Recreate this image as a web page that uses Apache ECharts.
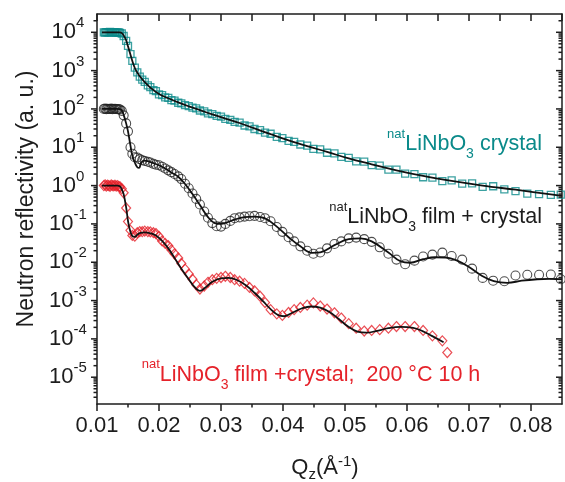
<!DOCTYPE html>
<html>
<head>
<meta charset="utf-8">
<script src="https://cdn.jsdelivr.net/npm/echarts@6/dist/echarts.min.js"></script>
<style>
  html, body { margin: 0; padding: 0; background: #fff; }
  #chart { width: 565px; height: 482px; }
</style>
</head>
<body>
<div id="chart"></div>
<script>
// Neutron reflectivity of LiNbO3 samples: measured points and model fits.

// Momentum transfer Qz (1/Å) of the measured points
const qData = [
  0.0111,0.0113,0.0115,0.0117,0.0119,0.0121,0.0123,0.0125,0.0127,0.0129,0.0131,0.0133,0.0135,0.0137,
  0.0140,0.0143,0.0147,0.0150,0.0154,0.0157,0.0161,0.0165,0.0169,0.0173,
  0.0177,0.0182,0.0186,0.0191,0.0195,0.0200,0.0205,0.0210,0.0215,0.0220,
  0.0225,0.0231,0.0236,0.0242,0.0248,0.0254,0.0260,0.0266,0.0273,0.0279,
  0.0286,0.0293,0.0300,0.0307,0.0315,0.0322,0.0330,0.0338,0.0346,0.0354,
  0.0363,0.0371,0.0380,0.0390,0.0399,0.0409,0.0418,0.0428,0.0439,0.0449,
  0.0460,0.0471,0.0483,0.0494,0.0506,0.0518,0.0531,0.0543,0.0556,0.0570,
  0.0583,0.0597,0.0612,0.0626,0.0641,0.0657,0.0672,0.0689,0.0705,0.0722,
  0.0739,0.0757,0.0775,0.0794,0.0813,0.0832,0.0848
];

// natLiNbO3 crystal (scaled x 1e4)
const crystalR = [
  1.00e4,0.98e4,1.01e4,1.00e4,0.99e4,1.02e4,1.00e4,0.99e4,1.01e4,1.00e4,0.98e4,1.00e4,0.99e4,0.97e4,
  9.3e3,8.0e3,6.0e3,4.4e3,2.7e3,1.8e3,1.2e3,9.0e2,7.0e2,5.8e2,
  5.1e2,4.1e2,3.7e2,3.1e2,2.9e2,2.4e2,2.3e2,2.0e2,1.95e2,1.70e2,
  1.65e2,1.45e2,1.40e2,1.26e2,1.19e2,1.08e2,1.04e2,91,86,77,
  73,66,63,55,52,46,44,37,35,30,
  28,24,22.5,18.6,17.4,14.6,13.9,11.8,11.0,9.1,
  8.8,7.2,6.9,5.6,5.3,4.3,4.2,3.4,3.3,2.6,
  2.6,2.05,2.0,1.65,1.62,1.30,1.36,1.12,1.14,0.93,
  0.96,0.80,0.72,0.62,0.60,0.57,0.58
];

// natLiNbO3 film + crystal (scaled x 1e2)
const filmR = [
  100,102,99,101,100,100,102,99,100,101,100,98,99,97,
  89,68,42,26,10,6.8,5.5,5.4,4.9,4.6,
  4.4,4.2,4.0,3.7,3.5,3.4,3.1,2.8,2.5,2.24,
  2.0,1.74,1.48,1.12,0.85,0.62,0.45,0.32,0.21,0.145,
  0.105,0.087,0.085,0.10,0.12,0.141,0.148,0.155,0.158,0.162,
  0.151,0.141,0.117,0.083,0.062,0.045,0.035,0.026,0.020,0.0166,
  0.018,0.023,0.030,0.035,0.042,0.044,0.040,0.034,0.0245,0.0166,
  0.0117,0.0089,0.011,0.0141,0.0158,0.0178,0.0145,0.0117,0.0068,0.0039,
  0.0033,0.0032,0.0045,0.0047,0.0047,0.0048,0.0036
];

// natLiNbO3 film + crystal after 200 °C, 10 h
const qAnnealed = [
  0.0111,0.0113,0.0115,0.0117,0.0119,0.0121,0.0123,0.0125,0.0127,0.0129,0.0131,0.0133,0.0135,0.0137,
  0.0140,0.0143,0.0147,0.0150,0.0154,0.0157,0.0161,0.0165,0.0169,0.0173,
  0.0177,0.0182,0.0186,0.0191,0.0195,0.0200,0.0205,0.0210,0.0215,0.0220,
  0.0225,0.0231,0.0236,0.0242,0.0248,0.0254,0.0260,0.0266,0.0273,0.0279,
  0.0286,0.0293,0.0300,0.0307,0.0315,0.0322,0.0330,0.0338,0.0346,0.0354,
  0.0363,0.0371,0.0380,0.0390,0.0399,0.0409,0.0418,0.0428,0.0439,0.0449,
  0.0460,0.0471,0.0483,0.0494,0.0506,0.0518,0.0531,0.0543,0.0556,0.0570,
  0.0583,0.0597,0.0612,0.0626,0.0641,0.0657,0.0665
];
const annealedR = [
  1.00,1.05,0.97,1.03,1.00,0.96,1.04,1.00,0.98,1.02,0.97,1.00,0.95,0.93,
  0.83,0.65,0.26,0.115,0.068,0.050,0.048,0.059,0.063,0.063,
  0.065,0.063,0.062,0.059,0.056,0.047,0.036,0.031,0.027,0.021,
  0.0166,0.0129,0.0093,0.0066,0.0049,0.0036,0.0026,0.0020,0.0024,0.0030,
  0.0035,0.0038,0.0040,0.0043,0.0040,0.0035,0.0032,0.0028,0.0022,0.0018,
  0.0013,0.00089,0.00058,0.00045,0.00041,0.00049,0.00058,0.00066,0.00076,0.00087,
  0.00072,0.00060,0.00048,0.00035,0.00025,0.00019,0.00016,0.000166,0.000174,0.00019,
  0.00021,0.00021,0.00021,0.000166,0.00012,0.000089,0.000044
];

// Model fits
const qFitCrystal = [0.0108,0.0120,0.0132,0.0137,0.0140,0.0143,0.0147,0.0150,0.0154,0.0157,0.0161,0.0165,0.0169,
  0.0177,0.0186,0.0200,0.0215,0.0231,0.0248,0.0266,0.0286,0.0307,0.0330,0.0354,0.0380,0.0409,0.0439,0.0471,
  0.0506,0.0543,0.0583,0.0626,0.0672,0.0722,0.0775,0.0832,0.0850];
const fitCrystal = [1.0e4,1.0e4,1.0e4,9.9e3,9.5e3,8.3e3,6.2e3,4.3e3,2.6e3,1.78e3,1.17e3,8.9e2,7.1e2,
  5.0e2,3.6e2,2.45e2,1.9e2,1.48e2,1.17e2,93,72,56,43,31,21.9,15.1,10.7,7.6,
  5.1,3.6,2.5,1.78,1.32,1.0,0.78,0.59,0.54];

const qFitFilm = [0.0108,0.0120,0.0132,0.0137,0.0140,0.0143,0.0147,0.0150,0.0154,0.0157,0.0161,0.0165,0.0168,
  0.0171,0.0175,0.0180,0.0190,0.0200,0.0210,0.0220,0.0231,0.0242,0.0254,0.0266,0.0279,0.0290,0.0300,0.0310,
  0.0322,0.0338,0.0354,0.0371,0.0390,0.0409,0.0428,0.0447,0.0460,0.0483,0.0506,0.0525,0.0543,0.0570,0.0590,
  0.0605,0.0626,0.0645,0.0662,0.0680,0.0700,0.0720,0.0740,0.0762,0.0785,0.0810,0.0830,0.0850];
const fitFilm = [100,100,100,99,92,70,42,26,11,6.0,4.0,3.0,2.9,
  3.9,4.5,4.4,3.9,3.4,2.8,2.2,1.7,1.1,0.6,0.31,0.15,0.105,0.100,0.11,
  0.13,0.15,0.155,0.14,0.085,0.045,0.026,0.0175,0.018,0.028,0.040,0.042,0.035,0.018,0.0105,
  0.0097,0.012,0.0135,0.0133,0.0112,0.0075,0.0045,0.0032,0.0029,0.0033,0.0036,0.0037,0.0036];

const qFitAnnealed = [0.0108,0.0120,0.0133,0.0137,0.0140,0.0143,0.0147,0.0150,0.0153,0.0157,0.0161,0.0165,0.0170,
  0.0177,0.0186,0.0195,0.0205,0.0215,0.0225,0.0236,0.0248,0.0258,0.0266,0.0275,0.0286,0.0300,0.0312,0.0325,
  0.0340,0.0354,0.0368,0.0380,0.0392,0.0402,0.0415,0.0430,0.0445,0.0460,0.0475,0.0490,0.0505,0.0520,0.0535,
  0.0550,0.0570,0.0590,0.0610,0.0625,0.0640,0.0659];
const fitAnnealed = [1.0,1.0,1.0,0.95,0.80,0.60,0.27,0.12,0.07,0.048,0.046,0.052,0.058,
  0.060,0.057,0.050,0.036,0.023,0.013,0.0068,0.0036,0.0022,0.0018,0.0022,0.0031,0.0038,0.0039,0.0035,
  0.0025,0.0016,0.00095,0.00060,0.00042,0.00039,0.00048,0.00062,0.00070,0.00065,0.00050,0.00033,0.00021,0.000155,0.000145,
  0.000160,0.000190,0.000205,0.000195,0.000160,0.000120,0.000082];

// Axis ranges and tick values
const Q_MIN = 0.01, Q_MAX = 0.085;
const R_MIN = 2e-6, R_MAX = 3e4;
const yMajorTicks = [1e-5, 1e-4, 1e-3, 1e-2, 1e-1, 1e0, 1e1, 1e2, 1e3, 1e4];
const yMinorSteps = [2, 3, 4, 5, 6, 7, 8, 9];
const xMinorTicks = [0.015, 0.025, 0.035, 0.045, 0.055, 0.065, 0.075];

const FONT = '"Liberation Sans", Arial, Helvetica, sans-serif';
const INK = '#1d1d1d';
const TEAL = '#0a8a8a';
const RED = '#e5222a';
const AXIS_W = 1.5;

const pairs = (qs, vs) => qs.map((q, i) => [q, vs[i]]);

const yMinorTicks = [];
[1e-6].concat(yMajorTicks).forEach(d => {
  yMinorSteps.forEach(m => {
    const v = d * m;
    if (v > R_MIN * 1.01 && v < R_MAX * 0.99) yMinorTicks.push(v);
  });
});

function tickLine(x1, y1, x2, y2) {
  return { type: 'line', shape: { x1, y1, x2, y2 },
           style: { stroke: INK, lineWidth: AXIS_W } };
}

function textEl(x, y, text, size, align) {
  return { type: 'text', x, y,
    style: { text, fill: INK, fontSize: size, fontFamily: FONT,
             align: align, textAlign: align,
             verticalAlign: 'middle', textVerticalAlign: 'middle' } };
}

// Decade ticks with "10^n" labels on the left, mirrored ticks on the right
function renderMajorY(params, api) {
  const v = api.value(1);
  const l = api.coord([Q_MIN, v]);
  const r = api.coord([Q_MAX, v]);
  const e = Math.round(Math.log10(v));
  const expText = e < 0 ? '-' + (-e) : String(e);
  const baseW = 24.5;
  const expW = (e < 0 ? 5 : 0) + 8.3 * String(Math.abs(e)).length;
  const left = 68 - (baseW + expW) / 2;
  return { type: 'group', children: [
    tickLine(l[0] - 6, l[1], l[0], l[1]),
    tickLine(r[0] - 6, r[1], r[0], r[1]),
    textEl(left, l[1], '10', 22, 'left'),
    textEl(left + baseW, l[1] - 9, expText, 15, 'left')
  ] };
}

function renderMinorY(params, api) {
  const v = api.value(1);
  const l = api.coord([Q_MIN, v]);
  const r = api.coord([Q_MAX, v]);
  return { type: 'group', children: [
    tickLine(l[0] - 3.5, l[1], l[0], l[1]),
    tickLine(r[0] - 3.5, r[1], r[0], r[1])
  ] };
}

function renderMinorX(params, api) {
  const p = api.coord([api.value(0), R_MIN]);
  return tickLine(p[0], p[1], p[0], p[1] + 3.5);
}

const axisLine = { show: true, onZero: false, lineStyle: { color: INK, width: AXIS_W } };

const markerSeries = (name, data, symbol, size, color, bw) => ({
  name, type: 'scatter', data, symbol, symbolSize: size,
  xAxisIndex: 0, yAxisIndex: 0, z: 2,
  itemStyle: { color: 'rgba(0,0,0,0)', borderColor: color, borderWidth: bw },
  emphasis: { disabled: true }
});

const fitSeries = (name, data) => ({
  name, type: 'line', data, showSymbol: false, symbol: 'none', smooth: 0.4,
  xAxisIndex: 0, yAxisIndex: 0, z: 3,
  lineStyle: { color: '#111', width: 1.8 },
  emphasis: { disabled: true }
});

const richLabel = (fill, base) => ({
  base: { fontSize: base, lineHeight: 34, fontFamily: FONT, fill },
  sup: { fontSize: 13, lineHeight: 14, verticalAlign: 'top', fontFamily: FONT, fill },
  sub: { fontSize: 14, lineHeight: 14, verticalAlign: 'bottom', fontFamily: FONT, fill }
});

const annotation = (x, y, text, fill, align) => ({
  type: 'text', x, y, silent: true,
  style: { text, rich: richLabel(fill, 21.5), fill, fontFamily: FONT, fontSize: 21.5,
           align, textAlign: align, verticalAlign: 'middle', textVerticalAlign: 'middle' }
});

const option = {
  animation: false,
  backgroundColor: '#fff',
  grid: { left: 97, right: 3, top: 14, bottom: 78, containLabel: false },
  xAxis: [
    { type: 'value', position: 'bottom', min: Q_MIN, max: Q_MAX, interval: 0.01,
      axisLine,
      axisTick: { show: true, inside: false, length: 7, lineStyle: { color: INK, width: AXIS_W } },
      axisLabel: { show: true, margin: 11, fontSize: 22, fontFamily: FONT, color: INK,
                   showMaxLabel: false, formatter: v => v.toFixed(2) },
      splitLine: { show: false } },
    { type: 'value', position: 'top', min: Q_MIN, max: Q_MAX, interval: 0.005,
      axisLine,
      axisTick: { show: true, inside: true, length: 7, lineStyle: { color: INK, width: AXIS_W } },
      axisLabel: { show: false }, splitLine: { show: false } }
  ],
  yAxis: [
    { type: 'log', logBase: 10, position: 'left', min: R_MIN, max: R_MAX,
      axisLine, axisTick: { show: false }, axisLabel: { show: false }, splitLine: { show: false } },
    { type: 'log', logBase: 10, position: 'right', min: R_MIN, max: R_MAX,
      axisLine, axisTick: { show: false }, axisLabel: { show: false }, splitLine: { show: false } }
  ],
  series: [
    markerSeries('crystal', pairs(qData, crystalR), 'rect', 7, TEAL, 1.3),
    markerSeries('film + crystal', pairs(qData, filmR), 'circle', 9, '#222', 1.1),
    markerSeries('film + crystal, 200 °C 10 h', pairs(qAnnealed, annealedR), 'diamond', [9, 10], RED, 1.2),
    fitSeries('crystal fit', pairs(qFitCrystal, fitCrystal)),
    fitSeries('film fit', pairs(qFitFilm, fitFilm)),
    fitSeries('annealed fit', pairs(qFitAnnealed, fitAnnealed)),
    { type: 'custom', xAxisIndex: 0, yAxisIndex: 0, clip: false, z: 5, silent: true,
      data: yMajorTicks.map(v => [Q_MIN, v]), renderItem: renderMajorY },
    { type: 'custom', xAxisIndex: 0, yAxisIndex: 0, clip: false, z: 5, silent: true,
      data: yMinorTicks.map(v => [Q_MIN, v]), renderItem: renderMinorY },
    { type: 'custom', xAxisIndex: 0, yAxisIndex: 0, clip: false, z: 5, silent: true,
      data: xMinorTicks.map(q => [q, R_MIN]), renderItem: renderMinorX }
  ],
  graphic: [
    { type: 'text', x: 27, y: 199, rotation: Math.PI / 2, silent: true,
      style: { text: 'Neutron reflectivity (a. u.)', fill: INK, fontSize: 23, fontFamily: FONT,
               align: 'center', textAlign: 'center', verticalAlign: 'middle', textVerticalAlign: 'middle' } },
    { type: 'text', x: 325, y: 468, silent: true,
      style: { text: '{b|Q}{sub|z}{b|(Å}{sup|-1}{b|)}', fill: INK, fontFamily: FONT, fontSize: 22,
               rich: {
                 b: { fontSize: 22, lineHeight: 28, fontFamily: FONT, fill: INK },
                 sub: { fontSize: 15, lineHeight: 10, verticalAlign: 'bottom', fontFamily: FONT, fill: INK },
                 sup: { fontSize: 15, lineHeight: 16, verticalAlign: 'top', fontFamily: FONT, fill: INK }
               },
               align: 'center', textAlign: 'center', verticalAlign: 'middle', textVerticalAlign: 'middle' } },
    annotation(542, 144.5, '{sup|nat}{base|LiNbO}{sub|3}{base| crystal}', TEAL, 'right'),
    annotation(542, 217.5, '{sup|nat}{base|LiNbO}{sub|3}{base| film + crystal}', INK, 'right'),
    annotation(141.7, 375, '{sup|nat}{base|LiNbO}{sub|3}{base| film +crystal;  200 °C 10 h}', RED, 'left')
  ]
};

const chart = echarts.init(document.getElementById('chart'), null, { renderer: 'canvas' });
chart.setOption(option);
</script>
</body>
</html>
